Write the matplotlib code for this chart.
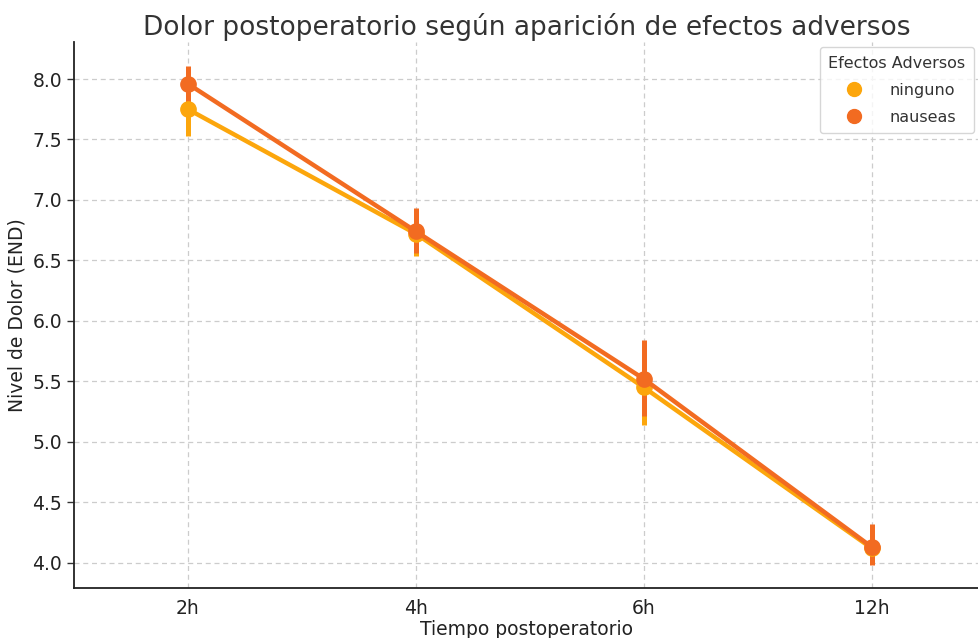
import matplotlib
matplotlib.use("Agg")
import matplotlib.pyplot as plt
from matplotlib.lines import Line2D
import numpy as np

tiempos = ["2h", "4h", "6h", "12h"]
grupos = ["ninguno", "nauseas"]
colores = ["#FCA60C", "#F26B21"]
media_ninguno = [7.75, 6.72, 5.45, 4.12]
ci_low_ninguno = [7.53, 6.54, 5.14, 3.99]
ci_high_ninguno = [7.97, 6.90, 5.76, 4.27]
media_nauseas = [7.96, 6.74, 5.52, 4.13]
ci_low_nauseas = [7.79, 6.56, 5.21, 3.98]
ci_high_nauseas = [8.11, 6.93, 5.84, 4.32]

medias = [media_ninguno, media_nauseas]
lows = [ci_low_ninguno, ci_low_nauseas]
highs = [ci_high_ninguno, ci_high_nauseas]

fig = plt.figure(figsize=(9.79, 6.38), dpi=100)
ax = fig.add_axes([0.0756, 0.078, 0.9244, 0.856])

x = np.arange(len(tiempos))
for g, c, m, lo, hi in zip(grupos, colores, medias, lows, highs):
    m = np.array(m); lo = np.array(lo); hi = np.array(hi)
    ax.vlines(x, lo, hi, color=c, lw=3.6, zorder=3)
    ax.plot(x, m, color=c, lw=3.2, marker="o", markersize=11, zorder=4, label=g)

ax.set_xticks(x)
ax.set_xticklabels(tiempos)
ax.set_xlim(-0.5, 3.47)
ax.set_ylim(3.79, 8.305)
ax.set_yticks(np.arange(4.0, 8.01, 0.5))
ax.set_yticklabels([f"{v:.1f}" for v in np.arange(4.0, 8.01, 0.5)])
ax.tick_params(labelsize=13.5, length=5, width=1, colors="#333333", labelcolor="#222222")
ax.tick_params(axis="x", length=0, pad=8)
ax.grid(True, linestyle=(0, (4, 3)), color="#cccccc", lw=0.9)
ax.set_axisbelow(True)
for s in ["top", "right"]:
    ax.spines[s].set_visible(False)
for s in ["left", "bottom"]:
    ax.spines[s].set_color("#222222")
    ax.spines[s].set_linewidth(1.3)

ax.set_xlabel("Tiempo postoperatorio", fontsize=13.5, color="#222222", labelpad=1)
ax.set_ylabel("Nivel de Dolor (END)", fontsize=13.5, color="#222222", labelpad=4)
ax.set_title("Dolor postoperatorio según aparición de efectos adversos", fontsize=19, color="#333333", pad=5)

handles = [Line2D([], [], color=c, marker="o", linestyle="", markersize=10) for c in colores]
leg = ax.legend(handles, grupos, title="Efectos Adversos", loc="upper right",
                fontsize=11.5, title_fontsize=11.5, frameon=True, borderaxespad=0.3,
                handletextpad=1.2, labelspacing=0.75, borderpad=0.55, labelcolor="#333333")
leg.get_title().set_color("#333333")
leg.get_frame().set_edgecolor("#cccccc")

fig.savefig("out.png", dpi=100)
